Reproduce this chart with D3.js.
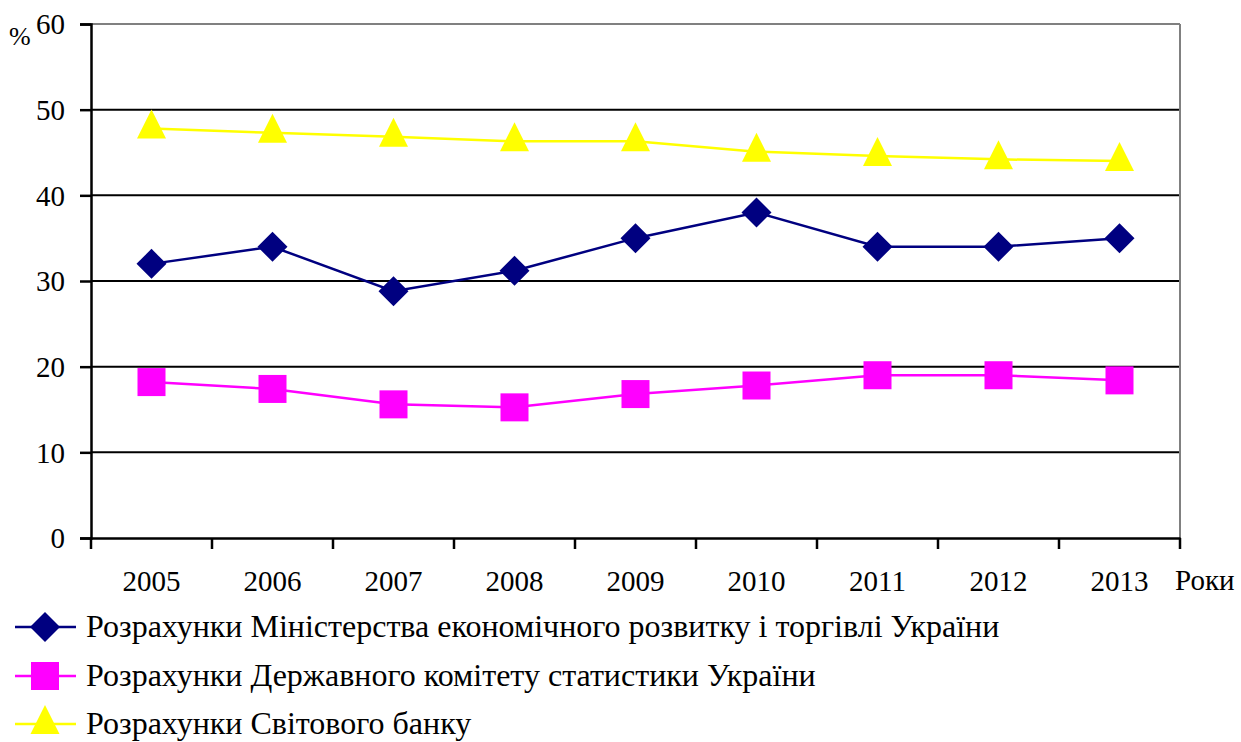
<!DOCTYPE html>
<html><head><meta charset="utf-8">
<script src="https://cdn.jsdelivr.net/npm/d3@7"></script>
</head><body style="margin:0">
<svg id="c" width="1241" height="742"></svg>
<script>
const years = ["2005","2006","2007","2008","2009","2010","2011","2012","2013"];
const yTicks = [0,10,20,30,40,50,60];
const ministry = [32,34,28.8,31.2,35,38,34,34,35];
const statCommittee = [18.2,17.4,15.6,15.25,16.8,17.8,19.0,19.0,18.4];
const worldBank = [47.8,47.3,46.85,46.3,46.3,45.1,44.6,44.2,44.0];
const seriesNames = [
  "Розрахунки Міністерства економічного розвитку і торгівлі України",
  "Розрахунки Державного комітету статистики України",
  "Розрахунки Світового банку"
];
const series = [
  {name: seriesNames[0], values: ministry, color: "#000080", symbol: "diamond"},
  {name: seriesNames[1], values: statCommittee, color: "#FF00FF", symbol: "square"},
  {name: seriesNames[2], values: worldBank, color: "#FFFF00", symbol: "triangle"}
];
const FONT = "Liberation Serif";

const svg = d3.select("#c");
const L = 91, R = 1180, T = 24, B = 538;
const x = d3.scaleBand().domain(years).range([L, R]);
const y = d3.scaleLinear().domain([0, 60]).range([B, T]);

svg.append("g").selectAll("line").data(yTicks.filter(d => d > 0)).join("line")
  .attr("x1", L).attr("x2", R).attr("y1", d => y(d)).attr("y2", d => y(d))
  .attr("stroke", d => d === 60 ? "#808080" : "#000").attr("stroke-width", 2);
svg.append("line").attr("x1", R).attr("x2", R).attr("y1", T).attr("y2", B)
  .attr("stroke", "#808080").attr("stroke-width", 2);

// y axis
const ya = svg.append("g").attr("transform", `translate(${L},0)`)
  .call(d3.axisLeft(y).tickValues(yTicks).tickSize(11).tickPadding(15).tickFormat(d3.format("d")));
ya.attr("font-family", FONT).attr("font-size", 29);
ya.select(".domain").attr("stroke", "#000").attr("stroke-width", 2.5);
ya.selectAll(".tick line").attr("stroke", "#000").attr("stroke-width", 2.5);
ya.selectAll(".tick text").attr("font-family", FONT).attr("font-size", 29).attr("fill", "#000").attr("dy", "0.34em");

// x axis
const xa = svg.append("g").attr("transform", `translate(0,${B})`)
  .call(d3.axisBottom(x).tickSize(0).tickPadding(53));
xa.attr("font-family", FONT).attr("font-size", 29);
xa.select(".domain").attr("stroke", "#000").attr("stroke-width", 2.5);
xa.selectAll(".tick text").attr("font-family", FONT).attr("font-size", 29).attr("fill", "#000").attr("dy", "0");
const bounds = years.map(d => x(d)).concat([x(years[years.length-1]) + x.bandwidth()]);
svg.append("g").selectAll("line").data(bounds).join("line")
  .attr("x1", d => d).attr("x2", d => d).attr("y1", B).attr("y2", B + 11)
  .attr("stroke", "#000").attr("stroke-width", 2.5);

svg.append("text").attr("x", 9).attr("y", 45).attr("font-family", FONT).attr("font-size", 26).text("%");
svg.append("text").attr("x", 1175).attr("y", 590).attr("font-family", FONT).attr("font-size", 29).text("Роки");

function marker(sel, s) {
  if (s.symbol === "diamond") {
    sel.append("path").attr("d", "M0,-15L15,0L0,15L-15,0Z").attr("fill", s.color);
  } else if (s.symbol === "square") {
    sel.append("rect").attr("x", -14).attr("y", -14).attr("width", 28).attr("height", 28).attr("fill", s.color);
  } else {
    sel.append("path").attr("d", "M0,-19L14.5,10L-14.5,10Z").attr("fill", s.color);
  }
}

const line = d3.line().x((d, i) => x(years[i]) + x.bandwidth() / 2).y(d => y(d));
series.forEach(s => {
  svg.append("path").datum(s.values).attr("d", line).attr("fill", "none")
    .attr("stroke", s.color).attr("stroke-width", 2.5);
  s.values.forEach((v, i) => {
    const g = svg.append("g").attr("transform", `translate(${x(years[i]) + x.bandwidth()/2},${y(v)})`);
    marker(g, s);
  });
});

const legendY = [627, 676, 724];
series.forEach((s, i) => {
  const gy = legendY[i];
  svg.append("line").attr("x1", 15).attr("x2", 76).attr("y1", gy).attr("y2", gy)
    .attr("stroke", s.color).attr("stroke-width", 2.5);
  const g = svg.append("g").attr("transform", `translate(45,${gy})`);
  marker(g, s);
  svg.append("text").attr("x", 86).attr("y", gy + 10).attr("font-family", FONT).attr("font-size", 32).text(s.name);
});
</script>
</body></html>
